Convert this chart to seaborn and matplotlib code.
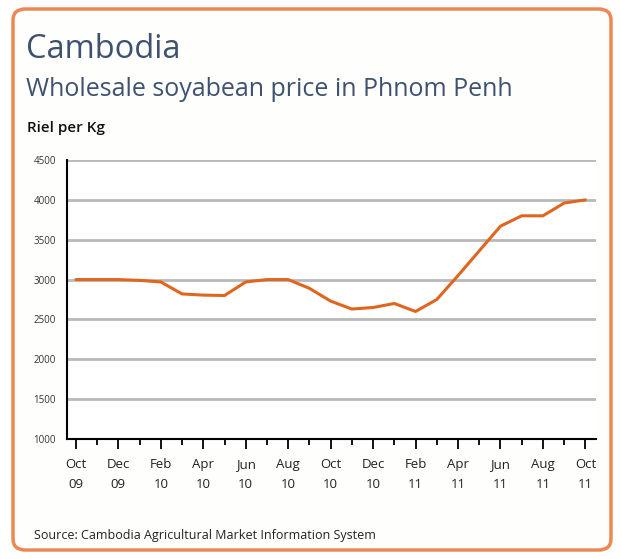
import numpy as np
import pandas as pd
import matplotlib
matplotlib.use("Agg")
import matplotlib.pyplot as plt
from matplotlib.patches import FancyBboxPatch
from matplotlib.ticker import MultipleLocator
import seaborn as sns

# Monthly wholesale price, Oct 2009 .. Oct 2011 (riel per kg)
months = ["Oct 09", "Nov 09", "Dec 09", "Jan 10", "Feb 10", "Mar 10", "Apr 10",
          "May 10", "Jun 10", "Jul 10", "Aug 10", "Sep 10", "Oct 10", "Nov 10",
          "Dec 10", "Jan 11", "Feb 11", "Mar 11", "Apr 11", "May 11", "Jun 11",
          "Jul 11", "Aug 11", "Sep 11", "Oct 11"]
price = [3000, 3000, 3000, 2990, 2970, 2820, 2805, 2800, 2970, 3000, 3000, 2890,
         2730, 2630, 2650, 2700, 2600, 2750, 3050, 3360, 3670, 3800, 3800, 3960, 4000]
tick_labels = ["Oct\n09", "Dec\n09", "Feb\n10", "Apr\n10", "Jun\n10", "Aug\n10", "Oct\n10",
               "Dec\n10", "Feb\n11", "Apr\n11", "Jun\n11", "Aug\n11", "Oct\n11"]
y_ticks = [1000, 1500, 2000, 2500, 3000, 3500, 4000, 4500]

df = pd.DataFrame({"idx": np.arange(len(months)), "month": months, "price": price})

sns.set_style("white")
plt.rcParams["font.family"] = ["Open Sans", "DejaVu Sans"]

fig = plt.figure(figsize=(6.21, 5.59), dpi=100)
fig.patch.set_facecolor("white")

# rounded orange frame, behind everything
frame = FancyBboxPatch((13 / 621, 9 / 559), 598 / 621, 541 / 559,
                       boxstyle="round,pad=0,rounding_size=0.02",
                       transform=fig.transFigure, facecolor="#fefefc",
                       edgecolor="#ea8a52", linewidth=2.5, zorder=-5)
fig.patches.append(frame)

ax = fig.add_axes([67 / 621, 120 / 559, 529 / 621, 279 / 559])
ax.set_zorder(2)
ax.set_facecolor("white")

for yv in y_ticks[1:]:
    ax.axhline(yv, color="#b9b9b9", linewidth=2.0, zorder=1)

sns.lineplot(data=df, x="idx", y="price", ax=ax, color="#e0651f", linewidth=2.2, zorder=3)

ax.set_xlim(-0.42, 24.5)
ax.set_ylim(1000, 4500)
ax.set_yticks(y_ticks)
ax.set_yticklabels([str(v) for v in y_ticks], fontsize=7, color="#333333")
ax.set_xticks(np.arange(0, 25, 2))
ax.set_xticklabels(tick_labels, fontsize=9.5, color="#222222", linespacing=1.65)
ax.xaxis.set_minor_locator(MultipleLocator(1))
ax.tick_params(axis="x", which="major", bottom=True, direction="out", length=7, width=1.3,
               color="black", pad=7)
ax.tick_params(axis="x", which="minor", bottom=True, direction="out", length=4, width=1.3,
               color="black")
ax.tick_params(axis="y", left=False, length=0, pad=8)
ax.set_xlabel("")
ax.set_ylabel("")

for side in ["top", "right"]:
    ax.spines[side].set_visible(False)
for side in ["left", "bottom"]:
    ax.spines[side].set_color("black")
    ax.spines[side].set_linewidth(1.5)

fig.text(26 / 621, 1 - 50 / 559, "Cambodia", fontsize=23.5, color="#3f5170", va="center", ha="left")
fig.text(26 / 621, 1 - 90 / 559, "Wholesale soyabean price in Phnom Penh", fontsize=18,
         color="#3f5170", va="center", ha="left")
fig.text(27 / 621, 1 - 128 / 559, "Riel per Kg", fontsize=11, color="#111111",
         fontweight="semibold", va="center", ha="left")
fig.text(34 / 621, 1 - 535 / 559, "Source: Cambodia Agricultural Market Information System",
         fontsize=9, color="#222222", va="center", ha="left")

fig.savefig("out.png", dpi=100, facecolor="white")
